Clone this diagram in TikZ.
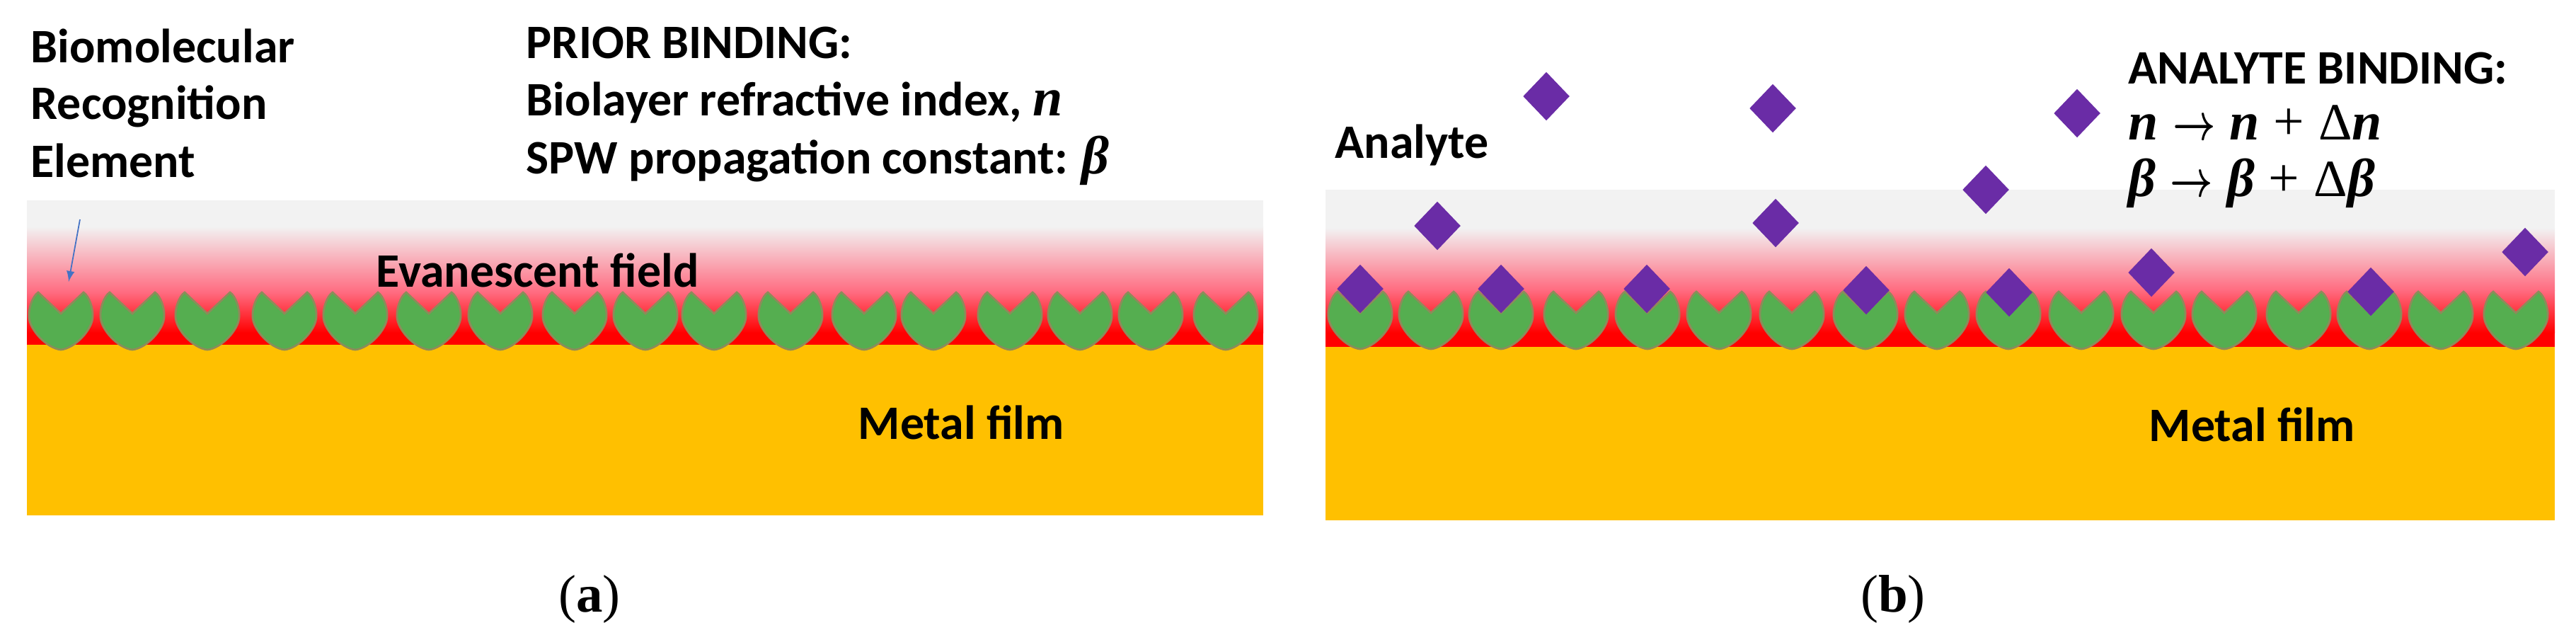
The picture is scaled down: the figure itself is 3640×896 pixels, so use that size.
\documentclass[tikz,border=0pt]{standalone}
\usepackage{amsmath,amsfonts}
\usepackage{fontspec}
\setmainfont{Carlito}
\newfontfamily\capfont{Liberation Serif}
\newfontfamily\symfont{Liberation Serif}
\usetikzlibrary{positioning, calc, shapes.geometric}

\definecolor{gold}{HTML}{FFC000}
\definecolor{haze}{HTML}{F2F2F2}
\definecolor{field}{HTML}{FF6B80}
\definecolor{leaf}{HTML}{55AE50}
\definecolor{leafedge}{HTML}{8C8C5A}
\definecolor{analyte}{HTML}{6A2CA6}
\definecolor{pointer}{HTML}{4472C4}

\newcommand{\varn}{{\symfont\fontsize{21.6}{23}\selectfont\bfseries\itshape n}}
\newcommand{\varb}{{\symfont\fontsize{21.6}{23}\selectfont\bfseries\itshape β}}
\newcommand{\delt}{{\symfont\fontsize{21}{23}\selectfont\mdseries Δ}}
\newcommand{\tinyarrow}{\hspace{0.2cm}\scalebox{0.72}[1]{$\boldsymbol{\rightarrow}$}\hspace{0.2cm}}
\newcommand{\plussign}{\hspace{0.2cm}{\symfont\fontsize{22}{23}\selectfont\mdseries +}\hspace{0.2cm}}

\tikzset{
    label text/.style={anchor=base west, inner sep=0pt, font=\fontsize{19.3}{23}\selectfont\bfseries},
    panel tag/.style={anchor=base, inner sep=0pt, font=\capfont\fontsize{21.3}{25}\selectfont},
    molecule/.style={diamond, aspect=1, inner sep=0pt, minimum width=0.66cm, minimum height=0.69cm, fill=analyte},
    receptor/.pic={
        \draw[fill=leaf, draw=leafedge, line width=0.8pt]
            (0,-7) -- (32,-37) .. controls (40,-32) and (46,-14) .. (45,-2)
            .. controls (44,16) and (20,42) .. (0,44)
            .. controls (-20,42) and (-44,16) .. (-45,-2)
            .. controls (-46,-14) and (-40,-32) .. (-32,-37) -- cycle;
    }
}

\begin{document}
\begin{tikzpicture}[x=0.01cm, y=-0.01cm]
    \useasboundingbox (0,0) rectangle (3640,896);

    \foreach \l/\r/\t/\u/\v/\w/\g/\b in {38/1785/283/320/413/470/487/728, 1873/3610/268/322/410/470/490/735}
    {
        \fill[haze] (\l,\t) rectangle (\r,\u);
        \shade[top color=haze, bottom color=field] (\l,\u) rectangle (\r,\v);
        \shade[top color=field, bottom color=red] (\l,\v) rectangle (\r,\w);
        \fill[red] (\l,\w) rectangle (\r,\g);
        \fill[gold] (\l,\g) rectangle (\r,\b);
    }

    \foreach \x in {86,187,293,402,502,606,707,812,912,1009,1117,1221,1319,1427,1526,1626,1732}
    {
        \pic at (\x,450) {receptor};
    }
    \foreach \x in {1922,2022,2121,2227,2328,2429,2532,2636,2737,2838,2941,3043,3143,3248,3348,3449,3555}
    {
        \pic at (\x,449) {receptor};
    }

    \foreach \i/\x/\y in {1/2185/136, 2/2505/153, 3/2935/160, 4/2031/319, 5/2509/315, 6/2806/268, 7/1922/408, 8/2121/408, 9/2327/408, 10/2637/410, 11/2839/413, 12/3040/385, 13/3350/412, 14/3568/356}
    {
        \node (M\i) at (\x,\y) [molecule] {};
    }

    \node (Bio) at (43,88) [label text] {Biomolecular};
    \node (Rec) at (43,168) [label text] {Recognition};
    \node (Ele) at (43,250) [label text] {Element};
    \node (Pri) at (743,82) [label text] {PRIOR BINDING:};
    \node (Ind) at (743,163) [label text] {Biolayer refractive index, \varn};
    \node (Spw) at (743,245) [label text] {SPW propagation constant: \varb};
    \node (Eva) at (531,405) [label text] {Evanescent field};
    \node (MetA) at (1212,620) [label text] {Metal film};

    \node (Ana) at (1886,223) [label text] {Analyte};
    \node (Bnd) at (3007,118) [label text] {ANALYTE BINDING:};
    \node (Dn) at (3007,197) [label text] {\varn\tinyarrow\varn\plussign\delt\varn};
    \node (Db) at (3007,277) [label text] {\varb\tinyarrow\varb\plussign\delt\varb};
    \node (MetB) at (3036,623) [label text] {Metal film};

    \coordinate (PtrS) at (113,310);
    \coordinate (PtrE) at (97,398);
    \draw[-latex, pointer, line width=0.5pt] (PtrS) -- (PtrE);

    \node (TagA) at (833,864) [panel tag] {(\textbf{a})};
    \node (TagB) at (2675,864) [panel tag] {(\textbf{b})};
\end{tikzpicture}
\end{document}
